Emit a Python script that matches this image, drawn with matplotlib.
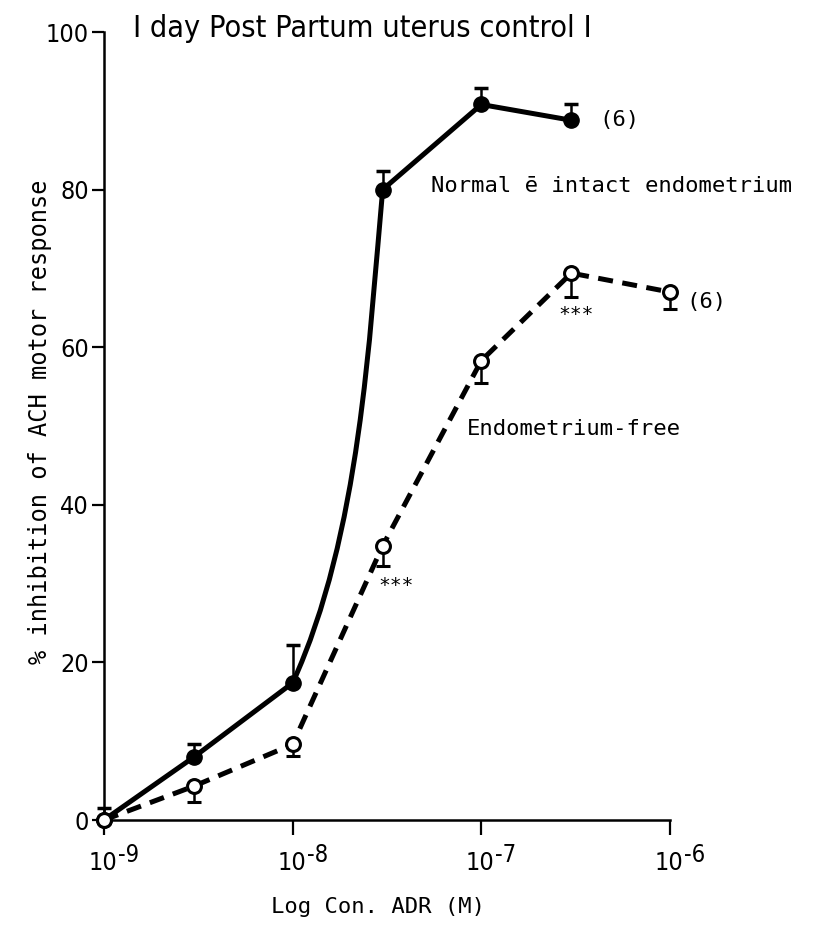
import matplotlib
matplotlib.use('Agg')
import matplotlib.pyplot as plt
import numpy as np
from matplotlib.path import Path
from matplotlib.patches import PathPatch

# Dose (M) and response (% inhibition) for both preparations
dose_normal = [1e-9, 3e-9, 1e-8, 3e-8, 1e-7, 3e-7]
resp_normal = [0.0, 8.0, 17.4, 80.0, 90.8, 88.8]
err_normal = [1.5, 1.6, 4.8, 2.4, 2.1, 2.1]

dose_free = [1e-9, 3e-9, 1e-8, 3e-8, 1e-7, 3e-7, 1e-6]
resp_free = [0.0, 4.3, 9.6, 34.8, 58.3, 69.4, 67.0]
err_free = [0.0, 2.0, 1.5, 2.6, 2.9, 3.0, 2.2]

y_ticks = [0, 20, 40, 60, 80, 100]
x_ticks = [1e-9, 1e-8, 1e-7, 1e-6]
x_exponents = ['-9', '-8', '-7', '-6']

narrow = dict(family='DejaVu Sans', stretch='condensed')
mono = dict(family='DejaVu Sans Mono')


def curve_path(xs, ys, bend):
    """Polyline through the points, with a bent (cubic) segment starting at index `bend`."""
    lx = np.log10(xs)
    verts = [(xs[0], ys[0])]
    codes = [Path.MOVETO]
    for i in range(1, len(xs)):
        if i - 1 == bend:
            dx = lx[i] - lx[i - 1]
            dy = ys[i] - ys[i - 1]
            c1 = (10 ** (lx[i - 1] + 0.75 * dx), ys[i - 1] + 0.3 * dy)
            c2 = (10 ** (lx[i] - 0.15 * dx), ys[i] - 0.3 * dy)
            verts += [c1, c2, (xs[i], ys[i])]
            codes += [Path.CURVE4] * 3
        else:
            verts.append((xs[i], ys[i]))
            codes.append(Path.LINETO)
    return Path(verts, codes)


fig = plt.figure(figsize=(8.19, 9.25), dpi=100)
ax = fig.add_axes([104 / 819, 105 / 925, 566 / 819, 788 / 925])
ax.set_xscale('log')
ax.set_xlim(1e-9, 1e-6)
ax.set_ylim(0, 100)

# normal, intact endometrium: solid line, filled circles, upper error bars
ax.add_patch(PathPatch(curve_path(dose_normal, resp_normal, 2), fill=False,
                       lw=3.6, color='black', capstyle='round', zorder=3))
ax.errorbar(dose_normal, resp_normal, yerr=[np.zeros(len(err_normal)), err_normal],
            fmt='o', ms=11, mfc='black', mec='black', ecolor='black',
            elinewidth=1.8, capsize=5, capthick=2.5, zorder=4, clip_on=False)

# endometrium-free: dashed line, open circles, lower error bars
ax.plot(dose_free, resp_free, color='black', lw=3.6, ls=(0, (3.0, 1.9)),
        zorder=3, clip_on=False)
ax.errorbar(dose_free, resp_free, yerr=[err_free, np.zeros(len(err_free))],
            fmt='o', ms=10, mfc='white', mec='black', mew=2.2, ecolor='black',
            elinewidth=1.8, capsize=5, capthick=2.5, zorder=5, clip_on=False)

ax.text(5.4e-8, 80.5, 'Normal ē intact endometrium', fontsize=16,
        ha='left', va='center', **mono)
ax.text(8.4e-8, 49.6, 'Endometrium-free', fontsize=16,
        ha='left', va='center', **mono)
ax.text(4.2e-7, 88.8, '(6)', fontsize=16, ha='left', va='center', **mono)
ax.text(1.22e-6, 65.7, '(6)', fontsize=16, ha='left', va='center', **mono)
ax.text(3.53e-8, 29.7, '***', fontsize=14, ha='center', va='center', **mono)
ax.text(3.17e-7, 64.2, '***', fontsize=14, ha='center', va='center', **mono)

ax.text(0.052, 1.004, 'I day Post Partum uterus control I', transform=ax.transAxes,
        fontsize=22, ha='left', va='center', **narrow)

for side in ['top', 'right']:
    ax.spines[side].set_visible(False)
for side in ['left', 'bottom']:
    ax.spines[side].set_linewidth(1.8)

ax.set_yticks(y_ticks)
ax.set_yticklabels([str(v) for v in y_ticks], fontsize=18, **narrow)
ax.set_xticks(x_ticks)
ax.set_xticklabels([])
ax.minorticks_off()
ax.tick_params(axis='y', direction='out', length=9, width=1.6, pad=2)
ax.tick_params(axis='x', direction='out', length=11, width=1.6)

# decade labels: "10" with a large raised exponent beside it
for xt, ex in zip(x_ticks, x_exponents):
    ax.annotate('10', xy=(xt, 0), xycoords=('data', 'axes fraction'),
                xytext=(9.5, -31), textcoords='offset points',
                ha='right', va='center', fontsize=18, **narrow)
    ax.annotate(ex, xy=(xt, 0), xycoords=('data', 'axes fraction'),
                xytext=(10, -25), textcoords='offset points',
                ha='left', va='center', fontsize=17, **narrow)

ax.set_ylabel('% inhibition of ACH motor response', fontsize=17, **mono)
ax.yaxis.set_label_coords(-0.092, 0.506)
ax.set_xlabel('Log Con. ADR (M)', fontsize=16, **mono)
ax.xaxis.set_label_coords(0.484, -0.098)

fig.savefig('out.png', dpi=100, facecolor='white')
